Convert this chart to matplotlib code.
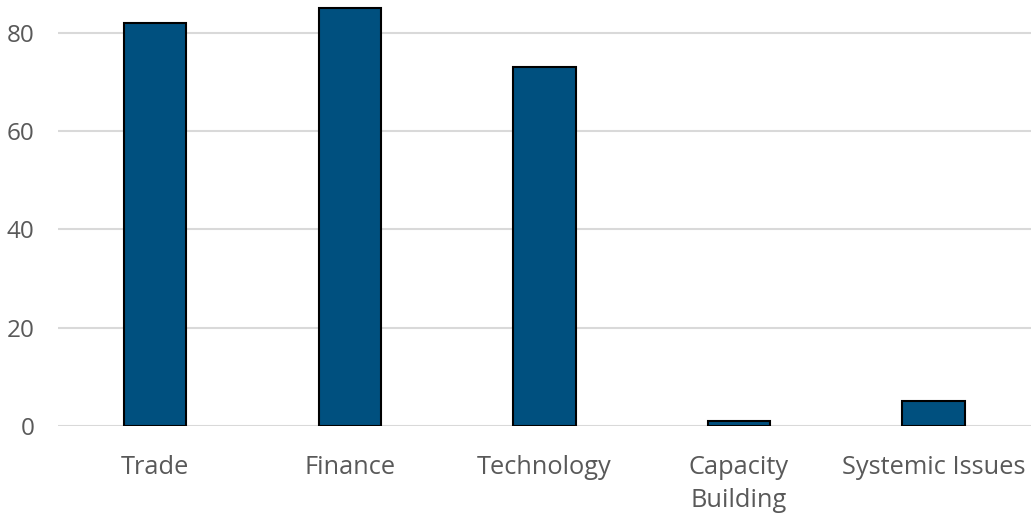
import matplotlib.pyplot as plt

categories = ["Trade", "Finance", "Technology", "Capacity\nBuilding", "Systemic Issues"]
counts = [82, 85, 73, 1, 5]

plt.rcParams["font.family"] = ["Open Sans", "DejaVu Sans"]

fig = plt.figure(figsize=(10.33, 5.14), dpi=100)
ax = fig.add_axes([0.056, 0.1712, 0.942, 0.8288])

x = range(len(categories))
ax.bar(x, counts, width=0.32, color="#00507f", edgecolor="black", linewidth=1.5, zorder=3)

ax.set_xlim(-0.5, len(categories) - 0.5)
ax.set_ylim(0, 86.7)
ax.set_yticks([0, 20, 40, 60, 80])
ax.set_xticks(list(x))
ax.set_xticklabels(categories, linespacing=1.4)
ax.tick_params(axis="y", length=0, pad=17, labelsize=17.5, labelcolor="#595959")
ax.tick_params(axis="x", length=0, pad=21, labelsize=18.3, labelcolor="#595959")
for lab in ax.get_xticklabels():
    lab.set_verticalalignment("top")

ax.grid(axis="y", color="#d9d9d9", linewidth=1.5, zorder=0)
for s in ax.spines.values():
    s.set_visible(False)

fig.savefig("out.png", dpi=100)
